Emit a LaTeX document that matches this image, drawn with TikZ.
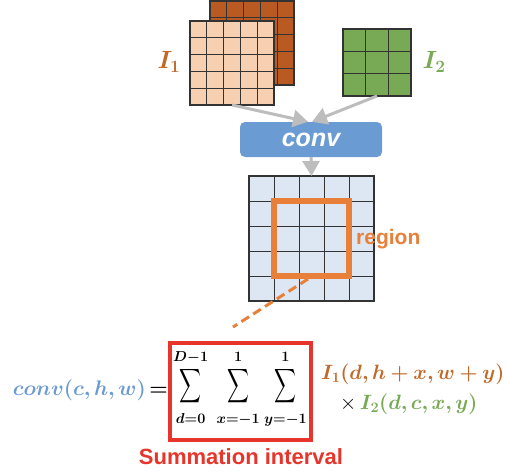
\documentclass[tikz,border=0pt]{standalone}
\usepackage{fontspec}
\setsansfont{Liberation Sans}
\usepackage{graphicx}
\usepackage{bm}
\usetikzlibrary{arrows.meta}
\definecolor{brownD}{HTML}{B85A22}
\definecolor{peach}{HTML}{F6D0B0}
\definecolor{lblbrown}{HTML}{C0692A}
\definecolor{grn}{HTML}{78A955}
\definecolor{convblue}{HTML}{6A9BD3}
\definecolor{gridblue}{HTML}{DDE7F3}
\definecolor{orng}{HTML}{E8803A}
\definecolor{redb}{HTML}{E8352C}
\definecolor{arrowgray}{HTML}{BDBDBD}
\definecolor{gridline}{HTML}{333333}
\newcommand{\mybigsum}{\mathop{\vcenter{\hbox{\resizebox*{22pt}{38pt}{$\displaystyle\sum$}}}}\limits}
\newcommand{\uplim}[1]{\bm{#1}\rule[-4pt]{0pt}{4pt}}
\newcommand{\lowlim}[1]{\rule{0pt}{16.5pt}\bm{#1}}
\begin{document}
\begin{tikzpicture}[x=1pt,y=-1pt,
  gridbox/.style={draw=gridline, line width=1.2pt, inner sep=0pt, outer sep=0pt},
  gline/.style={draw=gridline, line width=1pt},
  flow/.style={draw=arrowgray, line width=3pt, -{Triangle[width=17pt,length=15pt]}},
  mathtxt/.style={inner sep=0pt, font=\fontsize{22}{24}\selectfont},
  sanslbl/.style={inner sep=0pt, font=\fontsize{22}{26}\selectfont\sffamily\bfseries}]
\useasboundingbox (0,0) rectangle (507,474);

% I1 back
\node[gridbox, fill=brownD, minimum width=84pt, minimum height=84pt] (i1b) at (252,43) {};
\foreach \k in {1,...,4} {
  \draw[gline] (210+16.8*\k,1) -- (210+16.8*\k,85);
  \draw[gline] (210,1+16.8*\k) -- (294,1+16.8*\k);
}
% I1 front
\node[gridbox, fill=peach, minimum width=84pt, minimum height=84pt] (i1f) at (232,63) {};
\foreach \k in {1,...,4} {
  \draw[gline] (190+16.8*\k,21) -- (190+16.8*\k,105);
  \draw[gline] (190,21+16.8*\k) -- (274,21+16.8*\k);
}
\node[inner sep=0pt, text=lblbrown, font=\fontsize{24}{26}\selectfont] (l1) at (169,62) {$\bm{I_1}$};

% I2
\node[gridbox, fill=grn, minimum width=68pt, minimum height=67pt] (i2) at (377,62.5) {};
\foreach \k in {1,2} {
  \draw[gline] (343+22.667*\k,29) -- (343+22.667*\k,96);
  \draw[gline] (343,29+22.333*\k) -- (411,29+22.333*\k);
}
\node[inner sep=0pt, text=grn, font=\fontsize{24}{26}\selectfont] (l2) at (434,62) {$\bm{I_2}$};

% conv box
\node[fill=convblue, rounded corners=5pt, minimum width=142pt, minimum height=35pt, inner sep=0pt,
      text=white, font=\fontsize{25}{28}\selectfont\sffamily\bfseries\itshape] (conv) at (311,139.5) {conv};

\draw[flow] (i1f.south) -- ([xshift=-3pt]conv.north);
\draw[flow] (i2.south) -- ([xshift=1pt]conv.north);

% output grid
\node[gridbox, fill=gridblue, minimum width=125pt, minimum height=125pt] (og) at (311.5,238.5) {};
\foreach \k in {1,...,4} {
  \draw[gline] (249+25*\k,176) -- (249+25*\k,301);
  \draw[gline] (249,176+25*\k) -- (374,176+25*\k);
}
\draw[flow] (conv.south) -- (og.north);

% region
\node[draw=orng, line width=6pt, minimum width=75pt, minimum height=75pt, inner sep=0pt] (reg) at (311.5,238.5) {};
\node[sanslbl, text=orng, font=\fontsize{21}{24}\selectfont\sffamily\bfseries, anchor=west] (regl) at (356,239) {region};

\coordinate (dashend) at (233,327);
\draw[orng, line width=3pt, dash pattern=on 9pt off 5pt] ([xshift=-3.5pt]reg.south) -- (dashend);

% formula
\node[inner sep=0pt, anchor=east] (lhs) at (168,390) {\resizebox{155pt}{!}{\fontsize{20}{22}\selectfont\textcolor{convblue}{$\bm{conv(c,h,w)}$}\,$\bm{=}$}};
\node[draw=redb, line width=4pt, minimum width=141pt, minimum height=97pt, inner sep=0pt] (sumbox) at (240.5,391.5) {};
\node[inner sep=0pt, font=\fontsize{20}{22}\selectfont] (sums) at (240,389)
  {$\mybigsum_{\lowlim{d=0}}^{\uplim{D-1}}\hspace{5pt}\mybigsum_{\lowlim{x=-1}}^{\uplim{1}}\hspace{1pt}\mybigsum_{\lowlim{y=-1}}^{\uplim{1}}$};

\node[mathtxt, anchor=west, text=lblbrown] (r1) at (321,374) {$\bm{I_1(d,h+x,w+y)}$};
\node[mathtxt, anchor=west] (r2) at (340,404) {$\times$\,\textcolor{grn}{$\bm{I_2(d,c,x,y)}$}};

\node[sanslbl, text=redb] (sumlbl) at (241,457) {Summation interval};
\end{tikzpicture}
\end{document}
